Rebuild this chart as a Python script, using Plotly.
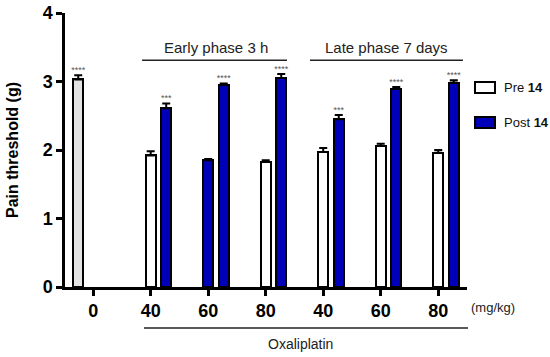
import plotly.graph_objects as go

# ---- data ----
tick_labels = ["0", "40", "60", "80", "40", "60", "80"]
group_pos = [0, 1, 2, 3, 4, 5, 6]

control_val = [3.03]
control_err = [0.06]
control_star = ["****"]

pre_vals = [1.92, 1.85, 1.83, 1.97, 2.06, 1.96]
pre_err = [0.06, 0.02, 0.02, 0.06, 0.03, 0.04]
pre_colors = ["white", "#0000b8", "white", "white", "white", "white"]

post_vals = [2.61, 2.95, 3.05, 2.45, 2.89, 2.98]
post_err = [0.07, 0.02, 0.06, 0.06, 0.03, 0.04]
post_stars = ["***", "****", "****", "***", "****", "****"]

legend_names = ["Pre <b>14</b>", "Post <b>14</b>"]
legend_fills = ["white", "#0000b8"]

BLUE = "#0000b8"
FONT = "Liberation Sans, Arial, sans-serif"
BW = 0.17
POST_OFF = 0.27
CTRL_OFF = -0.26

fig = go.Figure()

err_style = dict(type="data", symmetric=False, color="black", thickness=2, width=4)

fig.add_trace(go.Bar(
    x=group_pos[:1], y=control_val, width=BW, offset=CTRL_OFF - BW / 2,
    marker=dict(color="#e3e3e3", line=dict(color="black", width=2)),
    error_y=dict(array=control_err, arrayminus=[0] * len(control_err), **err_style),
    showlegend=False, hoverinfo="skip"))

fig.add_trace(go.Bar(
    name="Pre 14",
    x=group_pos[1:], y=pre_vals, width=BW, offset=-BW / 2,
    marker=dict(color=pre_colors, line=dict(color="black", width=2)),
    error_y=dict(array=pre_err, arrayminus=[0] * len(pre_err), **err_style),
    showlegend=False))

fig.add_trace(go.Bar(
    name="Post 14",
    x=group_pos[1:], y=post_vals, width=BW, offset=POST_OFF - BW / 2,
    marker=dict(color=BLUE, line=dict(color="black", width=2)),
    error_y=dict(array=post_err, arrayminus=[0] * len(post_err), **err_style),
    showlegend=False))

# significance stars
fig.add_trace(go.Scatter(
    x=[p + CTRL_OFF for p in group_pos[:1]] + [p + POST_OFF for p in group_pos[1:]],
    y=[v + e for v, e in zip(control_val + post_vals, control_err + post_err)],
    text=control_star + post_stars, mode="text", textposition="top center",
    textfont=dict(family=FONT, size=9, color="#555555"),
    showlegend=False, hoverinfo="skip", cliponaxis=False))

shapes = [
    dict(type="line", xref="x", yref="y", x0=0.85, x1=3.37, y0=3.31, y1=3.31,
         line=dict(color="#222222", width=1.5)),
    dict(type="line", xref="x", yref="y", x0=3.77, x1=6.43, y0=3.31, y1=3.31,
         line=dict(color="#222222", width=1.5)),
    dict(type="line", xref="paper", yref="paper", x0=0.1965, x1=1.0025, y0=-0.15, y1=-0.15,
         line=dict(color="#222222", width=1.5)),
]

annotations = [
    dict(text="Early phase 3 h", x=2.14, y=3.49, xref="x", yref="y", showarrow=False,
         xanchor="center", yanchor="middle",
         font=dict(family=FONT, size=15, color="#222222")),
    dict(text="Late phase 7 days", x=5.10, y=3.49, xref="x", yref="y", showarrow=False,
         xanchor="center", yanchor="middle",
         font=dict(family=FONT, size=15, color="#222222")),
    dict(text="Oxaliplatin", x=0.587, y=-0.208, xref="paper", yref="paper", showarrow=False,
         xanchor="center", yanchor="middle",
         font=dict(family=FONT, size=14, color="#222222")),
    dict(text="(mg/kg)", x=1.065, y=-0.073, xref="paper", yref="paper", showarrow=False,
         xanchor="center", yanchor="middle",
         font=dict(family=FONT, size=13, color="#222222")),
]

# legend (boxes + labels)
leg_y_top = [0.748, 0.620]
leg_h = 0.040
for name, fill, yt in zip(legend_names, legend_fills, leg_y_top):
    shapes.append(dict(type="rect", xref="paper", yref="paper",
                       x0=1.0199, x1=1.0697, y0=yt - leg_h, y1=yt,
                       fillcolor=fill, line=dict(color="black", width=2)))
    annotations.append(dict(text=name, x=1.087, y=yt - leg_h / 2, xref="paper", yref="paper",
                            xanchor="left", yanchor="middle", showarrow=False,
                            font=dict(family=FONT, size=13, color="#111111")))

fig.update_layout(
    width=550, height=357, autosize=False,
    margin=dict(l=65, r=83, t=13, b=70, autoexpand=False),
    plot_bgcolor="white", paper_bgcolor="white",
    barmode="overlay", bargap=0,
    shapes=shapes, annotations=annotations,
    showlegend=False,
    font=dict(family=FONT),
)

fig.update_xaxes(
    range=[-0.49, 6.5], tickvals=group_pos, ticktext=tick_labels,
    showline=True, linecolor="black", linewidth=2.5,
    ticks="outside", ticklen=6, tickwidth=2.5, tickcolor="black",
    tickfont=dict(family=FONT, size=18, color="black", weight="bold"),
    showgrid=False, zeroline=False, automargin=False)

fig.update_yaxes(
    range=[0, 4], tickvals=[0, 1, 2, 3, 4],
    showline=True, linecolor="black", linewidth=2.5,
    ticks="outside", ticklen=6, tickwidth=2.5, tickcolor="black",
    tickfont=dict(family=FONT, size=18, color="black", weight="bold"),
    showgrid=False, zeroline=False, automargin=False,
    title=dict(text="Pain threshold (g)", standoff=21,
               font=dict(family=FONT, size=16, color="black", weight="bold")))

fig.write_html("out.html", config={"displayModeBar": False},
               post_script="document.body.style.margin='0';")
